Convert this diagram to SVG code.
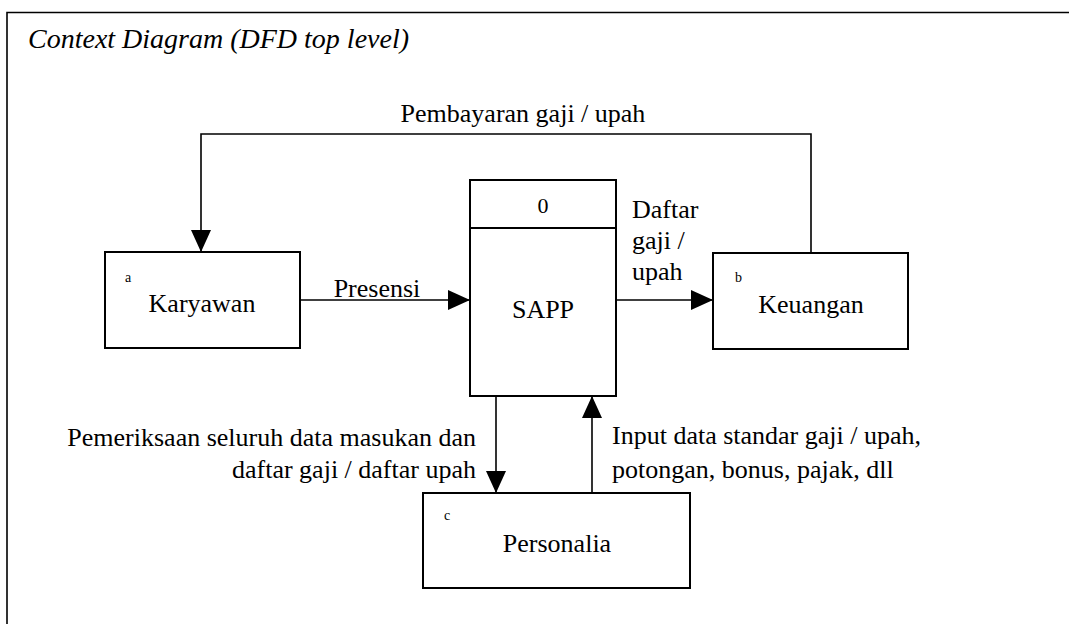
<svg xmlns="http://www.w3.org/2000/svg" width="1069" height="624" viewBox="0 0 1069 624">
<style>
text{font-family:"Liberation Serif","Times New Roman",serif;fill:#000}
.lbl{font-size:26px}
.sm{font-size:14px}
.box{fill:#fff;stroke:#000;stroke-width:2}
.ln{fill:none;stroke:#000;stroke-width:1.6}
</style>
<defs>
<marker id="ah" markerUnits="userSpaceOnUse" markerWidth="22" markerHeight="20" viewBox="0 0 22 20" refX="22" refY="10" orient="auto">
<path d="M0,0 L22,10 L0,20 Z" fill="#000"/>
</marker>
</defs>
<rect width="1069" height="624" fill="#fff"/>
<g id="frame">
<path class="ln" d="M1069,12.5 H7 V624"/>
<text x="28" y="48" style="font-size:28px;font-style:italic">Context Diagram (DFD top level)</text>
</g>
<g id="connectors">
<path class="ln" d="M811,253 V134 H201 V252" marker-end="url(#ah)"/>
<text class="lbl" x="523" y="122" text-anchor="middle">Pembayaran gaji / upah</text>
<path class="ln" d="M300,300 H470" marker-end="url(#ah)"/>
<text class="lbl" x="377" y="297" text-anchor="middle">Presensi</text>
<path class="ln" d="M616,300 H713" marker-end="url(#ah)"/>
<text class="lbl" x="632" y="218">Daftar</text>
<text class="lbl" x="632" y="249">gaji /</text>
<text class="lbl" x="632" y="280">upah</text>
<path class="ln" d="M496,396 V493" marker-end="url(#ah)"/>
<text class="lbl" x="476" y="446" text-anchor="end">Pemeriksaan seluruh data masukan dan</text>
<text class="lbl" x="476" y="478" text-anchor="end">daftar gaji / daftar upah</text>
<path class="ln" d="M592,493 V396" marker-end="url(#ah)"/>
<text class="lbl" x="612" y="444">Input data standar gaji / upah,</text>
<text class="lbl" x="612" y="478">potongan, bonus, pajak, dll</text>
</g>
<g id="karyawan">
<rect class="box" x="105" y="252" width="195" height="96"/>
<text class="sm" x="125" y="282">a</text>
<text class="lbl" x="202" y="312" text-anchor="middle">Karyawan</text>
</g>
<g id="sapp">
<rect class="box" x="470" y="180" width="146" height="216"/>
<line class="box" x1="470" y1="228" x2="616" y2="228"/>
<text class="lbl" x="543" y="213" text-anchor="middle" style="font-size:22px">0</text>
<text class="lbl" x="543" y="318" text-anchor="middle">SAPP</text>
</g>
<g id="keuangan">
<rect class="box" x="713" y="253" width="195" height="96"/>
<text class="sm" x="735" y="282">b</text>
<text class="lbl" x="811" y="313" text-anchor="middle">Keuangan</text>
</g>
<g id="personalia">
<rect class="box" x="423" y="493" width="267" height="95"/>
<text class="sm" x="444" y="520">c</text>
<text class="lbl" x="557" y="552" text-anchor="middle">Personalia</text>
</g>
</svg>
